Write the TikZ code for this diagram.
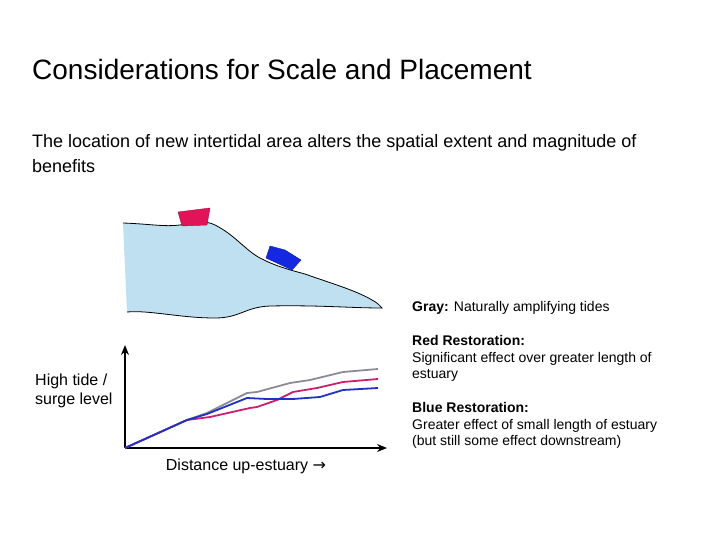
\documentclass[tikz,border=0pt]{standalone}
\usepackage{fontspec}
\setmainfont{Liberation Sans}
\newfontfamily\arrowfont{DejaVu Sans}
\usetikzlibrary{arrows.meta}
\definecolor{water}{RGB}{190,224,240}
\definecolor{redr}{RGB}{225,20,90}
\definecolor{bluer}{RGB}{20,40,225}
\definecolor{curvgray}{RGB}{140,140,150}
\definecolor{curvred}{RGB}{205,30,110}
\definecolor{curvblue}{RGB}{30,50,200}
\begin{document}
\begin{tikzpicture}[x=1pt,y=-1pt,
  txt/.style={inner sep=0pt,anchor=north west,align=left},
  curve/.style={line width=1.8pt,line join=round},
  ax/.style={line width=1.6pt,-{Stealth[length=10pt,width=8pt]}}]
\useasboundingbox (0,0) rectangle (720,540);
\node[txt,font=\fontsize{28}{32}\selectfont] (title) at (32,59) {Considerations for Scale and Placement};
\node[txt,font=\fontsize{18}{25}\selectfont] (sub) at (32,134) {The location of new intertidal area alters the spatial extent and magnitude of\\benefits};
% estuary
\fill[water] (123,223) .. controls (150,224) and (165,227) .. (180,225)
  .. controls (195,222) and (205,220) .. (215,225)
  .. controls (235,235) and (245,250) .. (260,258)
  .. controls (275,266) and (290,270) .. (305,274)
  .. controls (330,283) and (355,290) .. (372,300)
  .. controls (378,303) and (380,306) .. (382,308)
  .. controls (350,308) and (320,305) .. (270,306)
  .. controls (245,307) and (240,318) .. (215,318)
  .. controls (180,318) and (150,310) .. (127,312) -- cycle;
\draw[line width=0.8pt] (123,223) .. controls (150,224) and (165,227) .. (180,225)
  .. controls (195,222) and (205,220) .. (215,225)
  .. controls (235,235) and (245,250) .. (260,258)
  .. controls (275,266) and (290,270) .. (305,274)
  .. controls (330,283) and (355,290) .. (372,300)
  .. controls (378,303) and (380,306) .. (382,308)
  .. controls (350,308) and (320,305) .. (270,306)
  .. controls (245,307) and (240,318) .. (215,318)
  .. controls (180,318) and (150,310) .. (127,312);
\fill[redr,draw=redr!70!black,line width=0.4pt] (178,212) -- (210,208) -- (207,225) -- (182,226) -- cycle;
\fill[bluer,draw=bluer!70!black,line width=0.4pt] (270,246) -- (285,250) -- (301,260) -- (292,270) -- (266,258) -- cycle;
% axes
\coordinate (o) at (125,448);
\coordinate (yt) at (125,345);
\coordinate (xt) at (387,448);
\draw[ax] (o) -- (yt);
\draw[ax] (o) -- (xt);
\draw[curve,curvgray] (o) -- (187,420) -- (207,413) -- (247,393) -- (257,392) -- (290,383) -- (310,380) -- (343,372) -- (378,369);
\draw[curve,curvred] (o) -- (187,420) -- (210,417) -- (250,408) -- (257,407) -- (277,400) -- (293,392) -- (317,388) -- (343,382) -- (378,379);
\draw[curve,curvblue] (o) -- (187,420) -- (207,414) -- (247,398) -- (267,399) -- (293,399) -- (320,397) -- (343,390) -- (378,388);
\node[font=\fontsize{16}{19}\selectfont,inner sep=0pt] (xl) at (246,466) {Distance up-estuary {\arrowfont →}};
\node[txt,font=\fontsize{16}{19}\selectfont] (yl) at (35,374) {High tide /\\surge level};
% legend
\node[txt,font=\fontsize{14}{16.5}\selectfont] (lg) at (412,301) {\textbf{Gray:} Naturally amplifying tides};
\node[txt,font=\fontsize{14}{16.5}\selectfont] (lr) at (412,335.5) {\textbf{Red Restoration:}\\Significant effect over greater length of\\estuary};
\node[txt,font=\fontsize{14}{16.5}\selectfont] (lb) at (412,402.5) {\textbf{Blue Restoration:}\\Greater effect of small length of estuary\\(but still some effect downstream)};
\end{tikzpicture}
\end{document}
